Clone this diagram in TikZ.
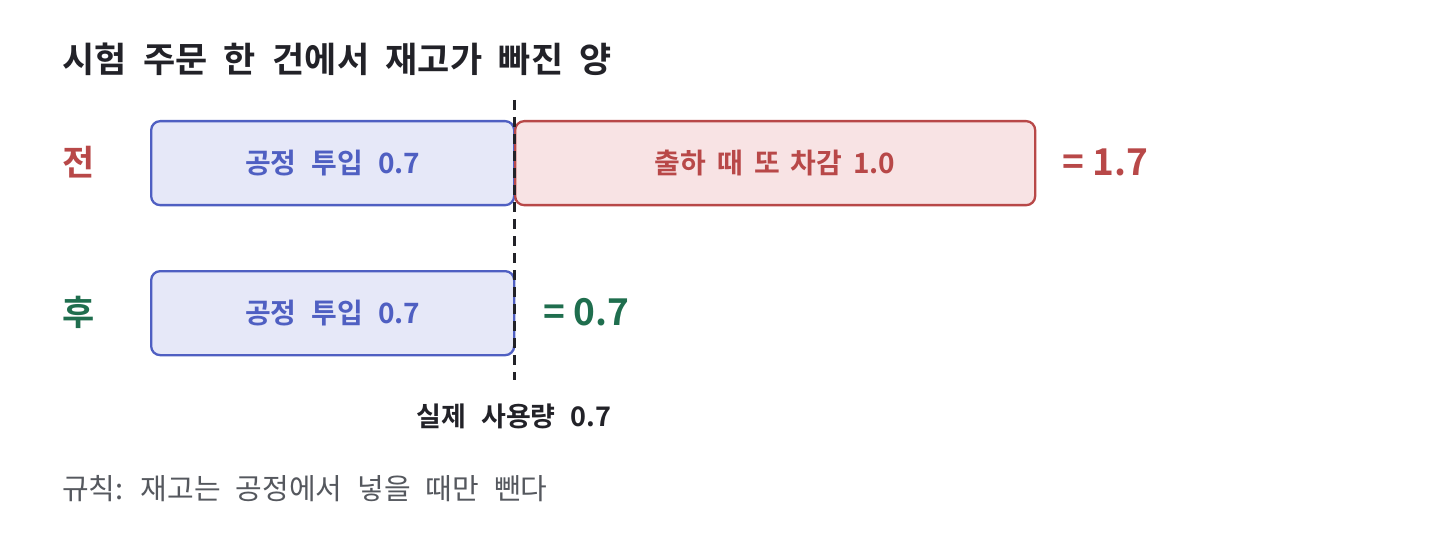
\documentclass[tikz,border=0pt]{standalone}
\usepackage{fontspec}
\setmainfont{Noto Sans CJK KR}
\newfontfamily\krb{Noto Sans CJK KR Bold}
\newcommand\mytitlef{\krb\fontsize{35}{40}\selectfont\spaceskip=16.5pt\relax}
\newcommand\mybarf{\krb\fontsize{28}{32}\selectfont\spaceskip=15pt\relax}
\newcommand\myredf{\krb\fontsize{28}{32}\selectfont\spaceskip=11pt\relax}
\newcommand\myactf{\krb\fontsize{27}{30}\selectfont\spaceskip=15pt\relax}
\newcommand\myrulef{\fontsize{29}{33}\selectfont\spaceskip=15pt\relax}
\definecolor{bstroke}{HTML}{4F5FC2}
\definecolor{bfill}{HTML}{E6E8F8}
\definecolor{rstroke}{HTML}{B84848}
\definecolor{rfill}{HTML}{F8E3E4}
\definecolor{grn}{HTML}{1F6E4E}
\definecolor{dark}{HTML}{222228}
\definecolor{grey}{HTML}{55585E}
\tikzset{
  bar/.style={draw, line width=2.3pt, rounded corners=9pt, inner sep=0pt, anchor=north west,
    minimum height=84pt},
  bluebar/.style={bar, draw=bstroke, fill=bfill, text=bstroke},
  redbar/.style={bar, draw=rstroke, fill=rfill, text=rstroke},
  barlabel/.style={font=\mybarf},
  redlabel/.style={font=\myredf},
  rowlabel/.style={font=\krb\fontsize{35}{40}\selectfont, anchor=west, inner sep=0pt},
  sumlabel/.style={font=\krb\fontsize{37}{42}\selectfont, anchor=west, inner sep=0pt},
}
\begin{document}
\begin{tikzpicture}[x=1pt,y=-1pt]
\useasboundingbox (0,0) rectangle (1440,540);
\node[font=\mytitlef, text=dark, anchor=west, inner sep=0pt] (title) at (62,59) {시험 주문 한 건에서 재고가 빠진 양};
% before row
\node[rowlabel, text=rstroke] (before) at (62,162) {전};
\node[bluebar, minimum width=363pt, barlabel] (b1) at (150,120) {공정 투입 0.7};
\node[redbar, minimum width=520pt, redlabel] (r1) at (514,120) {출하 때 또 차감 1.0};
\node[sumlabel, text=rstroke] (s1) at (1062,162) {= 1.7};
% after row
\node[rowlabel, text=grn] (after) at (62,312) {후};
\node[bluebar, minimum width=363pt, barlabel] (b2) at (150,270) {공정 투입 0.7};
\node[sumlabel, text=grn] (s2) at (543,312) {= 0.7};
% dashed line
\coordinate (dtop) at (514,100);
\coordinate (dbot) at (514,380);
\draw[dark, line width=3pt, dash pattern=on 10pt off 7pt] (dtop) -- (dbot);
\node[font=\myactf, text=dark, inner sep=0pt] (actual) at (514,416) {실제 사용량 0.7};
\node[font=\myrulef, text=grey, anchor=west, inner sep=0pt] (rule) at (62,489) {규칙: 재고는 공정에서 넣을 때만 뺀다};
\end{tikzpicture}
\end{document}
